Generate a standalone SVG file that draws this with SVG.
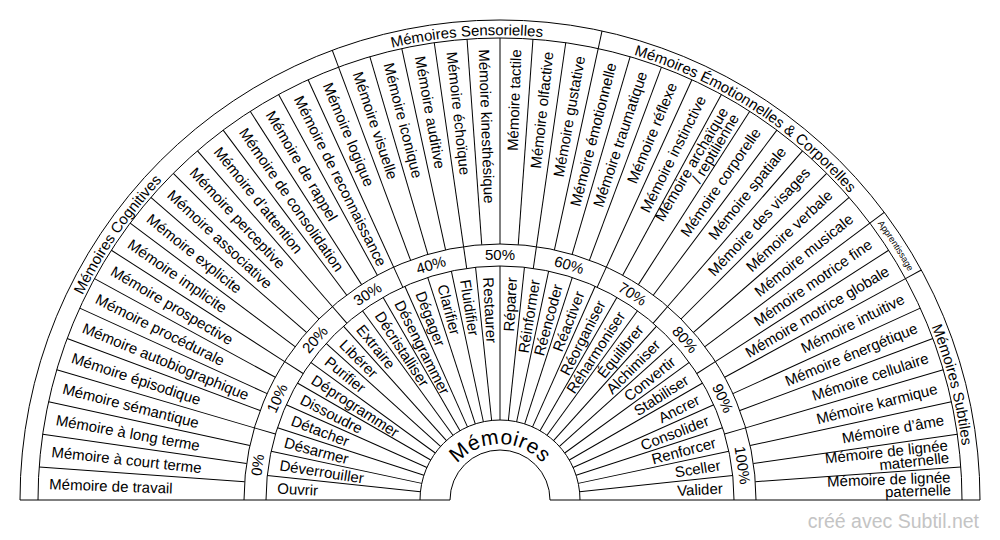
<svg xmlns="http://www.w3.org/2000/svg" xmlns:xlink="http://www.w3.org/1999/xlink" width="1000" height="540" viewBox="0 0 1000 540">
<defs>
<style>
text{font-family:"Liberation Sans",Arial,sans-serif;font-size:15px;fill:#000}
.ln{stroke:#000;stroke-width:1;fill:none}
.ml{text-anchor:start}
.mr{text-anchor:end}
.pc{text-anchor:middle}
.wm{font-size:19.5px;fill:#c4c4c4;text-anchor:end}
.hub{font-size:21px;letter-spacing:0.6px}
.small{font-size:9px}
</style>
<path id="catArc" d="M 35 500 A 465 465 0 0 1 965 500"/>
<path id="catArc2" d="M 32 500 A 468 468 0 0 1 968 500"/>
<path id="hubArc" d="M 444 500 A 56 56 0 0 1 556 500"/>
<line id="mLine" x1="38" y1="500" x2="244" y2="500"/>
<line id="cLine" x1="20" y1="500" x2="38" y2="500"/>
<line id="vLine" x1="266" y1="500" x2="420" y2="500"/>
<line id="pLine" x1="244" y1="500" x2="266" y2="500"/>
</defs>
<rect width="1000" height="540" fill="#fff"/>
<g id="rings" class="ln">
<path d="M 20 500 A 480 480 0 0 1 980 500"/>
<path d="M 38 500 A 462 462 0 0 1 962 500"/>
<path d="M 244 500 A 256 256 0 0 1 756 500"/>
<path d="M 266 500 A 234 234 0 0 1 734 500"/>
<path d="M 420 500 A 80 80 0 0 1 580 500"/>
<path d="M 450 500 A 50 50 0 0 1 550 500"/>
<path d="M 20 500 H 450 M 550 500 H 980"/>
</g>
<g id="connectors" class="ln">
<g id="category-dividers">
<use href="#cLine" transform="rotate(69.545 500 500)"/>
<use href="#cLine" transform="rotate(102.273 500 500)"/>
<use href="#cLine" transform="rotate(143.182 500 500)"/>
<use href="#cLine" transform="rotate(151.364 500 500)"/>
</g>
<g id="memory-dividers">
<use href="#mLine" transform="rotate(4.091 500 500)"/>
<use href="#mLine" transform="rotate(8.182 500 500)"/>
<use href="#mLine" transform="rotate(12.273 500 500)"/>
<use href="#mLine" transform="rotate(16.364 500 500)"/>
<use href="#mLine" transform="rotate(20.455 500 500)"/>
<use href="#mLine" transform="rotate(24.545 500 500)"/>
<use href="#mLine" transform="rotate(28.636 500 500)"/>
<use href="#mLine" transform="rotate(32.727 500 500)"/>
<use href="#mLine" transform="rotate(36.818 500 500)"/>
<use href="#mLine" transform="rotate(40.909 500 500)"/>
<use href="#mLine" transform="rotate(45 500 500)"/>
<use href="#mLine" transform="rotate(49.091 500 500)"/>
<use href="#mLine" transform="rotate(53.182 500 500)"/>
<use href="#mLine" transform="rotate(57.273 500 500)"/>
<use href="#mLine" transform="rotate(61.364 500 500)"/>
<use href="#mLine" transform="rotate(65.455 500 500)"/>
<use href="#mLine" transform="rotate(69.545 500 500)"/>
<use href="#mLine" transform="rotate(73.636 500 500)"/>
<use href="#mLine" transform="rotate(77.727 500 500)"/>
<use href="#mLine" transform="rotate(81.818 500 500)"/>
<use href="#mLine" transform="rotate(85.909 500 500)"/>
<use href="#mLine" transform="rotate(90 500 500)"/>
<use href="#mLine" transform="rotate(94.091 500 500)"/>
<use href="#mLine" transform="rotate(98.182 500 500)"/>
<use href="#mLine" transform="rotate(102.273 500 500)"/>
<use href="#mLine" transform="rotate(106.364 500 500)"/>
<use href="#mLine" transform="rotate(110.455 500 500)"/>
<use href="#mLine" transform="rotate(114.545 500 500)"/>
<use href="#mLine" transform="rotate(118.636 500 500)"/>
<use href="#mLine" transform="rotate(122.727 500 500)"/>
<use href="#mLine" transform="rotate(126.818 500 500)"/>
<use href="#mLine" transform="rotate(130.909 500 500)"/>
<use href="#mLine" transform="rotate(135 500 500)"/>
<use href="#mLine" transform="rotate(139.091 500 500)"/>
<use href="#mLine" transform="rotate(143.182 500 500)"/>
<use href="#mLine" transform="rotate(147.273 500 500)"/>
<use href="#mLine" transform="rotate(151.364 500 500)"/>
<use href="#mLine" transform="rotate(155.455 500 500)"/>
<use href="#mLine" transform="rotate(159.545 500 500)"/>
<use href="#mLine" transform="rotate(163.636 500 500)"/>
<use href="#mLine" transform="rotate(167.727 500 500)"/>
<use href="#mLine" transform="rotate(171.818 500 500)"/>
<use href="#mLine" transform="rotate(175.909 500 500)"/>
</g>
<g id="percent-dividers">
<use href="#pLine" transform="rotate(16.364 500 500)"/>
<use href="#pLine" transform="rotate(32.727 500 500)"/>
<use href="#pLine" transform="rotate(49.091 500 500)"/>
<use href="#pLine" transform="rotate(65.455 500 500)"/>
<use href="#pLine" transform="rotate(81.818 500 500)"/>
<use href="#pLine" transform="rotate(98.182 500 500)"/>
<use href="#pLine" transform="rotate(114.545 500 500)"/>
<use href="#pLine" transform="rotate(130.909 500 500)"/>
<use href="#pLine" transform="rotate(147.273 500 500)"/>
<use href="#pLine" transform="rotate(163.636 500 500)"/>
</g>
<g id="verb-dividers">
<use href="#vLine" transform="rotate(6 500 500)"/>
<use href="#vLine" transform="rotate(12 500 500)"/>
<use href="#vLine" transform="rotate(18 500 500)"/>
<use href="#vLine" transform="rotate(24 500 500)"/>
<use href="#vLine" transform="rotate(30 500 500)"/>
<use href="#vLine" transform="rotate(36 500 500)"/>
<use href="#vLine" transform="rotate(42 500 500)"/>
<use href="#vLine" transform="rotate(48 500 500)"/>
<use href="#vLine" transform="rotate(54 500 500)"/>
<use href="#vLine" transform="rotate(60 500 500)"/>
<use href="#vLine" transform="rotate(66 500 500)"/>
<use href="#vLine" transform="rotate(72 500 500)"/>
<use href="#vLine" transform="rotate(78 500 500)"/>
<use href="#vLine" transform="rotate(84 500 500)"/>
<use href="#vLine" transform="rotate(90 500 500)"/>
<use href="#vLine" transform="rotate(96 500 500)"/>
<use href="#vLine" transform="rotate(102 500 500)"/>
<use href="#vLine" transform="rotate(108 500 500)"/>
<use href="#vLine" transform="rotate(114 500 500)"/>
<use href="#vLine" transform="rotate(120 500 500)"/>
<use href="#vLine" transform="rotate(126 500 500)"/>
<use href="#vLine" transform="rotate(132 500 500)"/>
<use href="#vLine" transform="rotate(138 500 500)"/>
<use href="#vLine" transform="rotate(144 500 500)"/>
<use href="#vLine" transform="rotate(150 500 500)"/>
<use href="#vLine" transform="rotate(156 500 500)"/>
<use href="#vLine" transform="rotate(162 500 500)"/>
<use href="#vLine" transform="rotate(168 500 500)"/>
<use href="#vLine" transform="rotate(174 500 500)"/>
</g>
</g>
<g id="categories">
<text><textPath href="#catArc" startOffset="19.32%" text-anchor="middle">Mémoires Cognitives</textPath></text>
<text><textPath href="#catArc" startOffset="47.73%" text-anchor="middle">Mémoires Sensorielles</textPath></text>
<text><textPath href="#catArc" startOffset="68.18%" text-anchor="middle">Mémoires Émotionnelles &amp; Corporelles</textPath></text>
<text class="small"><textPath href="#catArc2" startOffset="81.82%" text-anchor="middle">Apprentissage</textPath></text>
<text><textPath href="#catArc" startOffset="92.05%" text-anchor="middle">Mémoires Subtiles</textPath></text>
</g>
<g id="memories">
<text class="ml" x="49" y="500" dy="0.35em" transform="rotate(2.045 500 500)">Mémoire de travail</text>
<text class="ml" x="49" y="500" dy="0.35em" transform="rotate(6.136 500 500)">Mémoire à court terme</text>
<text class="ml" x="49" y="500" dy="0.35em" transform="rotate(10.227 500 500)">Mémoire à long terme</text>
<text class="ml" x="49" y="500" dy="0.35em" transform="rotate(14.318 500 500)">Mémoire sémantique</text>
<text class="ml" x="49" y="500" dy="0.35em" transform="rotate(18.409 500 500)">Mémoire épisodique</text>
<text class="ml" x="49" y="500" dy="0.35em" transform="rotate(22.5 500 500)">Mémoire autobiographique</text>
<text class="ml" x="49" y="500" dy="0.35em" transform="rotate(26.591 500 500)">Mémoire procédurale</text>
<text class="ml" x="49" y="500" dy="0.35em" transform="rotate(30.682 500 500)">Mémoire prospective</text>
<text class="ml" x="49" y="500" dy="0.35em" transform="rotate(34.773 500 500)">Mémoire implicite</text>
<text class="ml" x="49" y="500" dy="0.35em" transform="rotate(38.864 500 500)">Mémoire explicite</text>
<text class="ml" x="49" y="500" dy="0.35em" transform="rotate(42.955 500 500)">Mémoire associative</text>
<text class="ml" x="49" y="500" dy="0.35em" transform="rotate(47.045 500 500)">Mémoire perceptive</text>
<text class="ml" x="49" y="500" dy="0.35em" transform="rotate(51.136 500 500)">Mémoire d’attention</text>
<text class="ml" x="49" y="500" dy="0.35em" transform="rotate(55.227 500 500)">Mémoire de consolidation</text>
<text class="ml" x="49" y="500" dy="0.35em" transform="rotate(59.318 500 500)">Mémoire de rappel</text>
<text class="ml" x="49" y="500" dy="0.35em" transform="rotate(63.409 500 500)">Mémoire de reconnaissance</text>
<text class="ml" x="49" y="500" dy="0.35em" transform="rotate(67.5 500 500)">Mémoire logique</text>
<text class="ml" x="49" y="500" dy="0.35em" transform="rotate(71.591 500 500)">Mémoire visuelle</text>
<text class="ml" x="49" y="500" dy="0.35em" transform="rotate(75.682 500 500)">Mémoire iconique</text>
<text class="ml" x="49" y="500" dy="0.35em" transform="rotate(79.773 500 500)">Mémoire auditive</text>
<text class="ml" x="49" y="500" dy="0.35em" transform="rotate(83.864 500 500)">Mémoire échoïque</text>
<text class="ml" x="49" y="500" dy="0.35em" transform="rotate(87.955 500 500)">Mémoire kinesthésique</text>
<text class="mr" x="951" y="500" dy="0.35em" transform="rotate(-87.955 500 500)">Mémoire tactile</text>
<text class="mr" x="951" y="500" dy="0.35em" transform="rotate(-83.864 500 500)">Mémoire olfactive</text>
<text class="mr" x="951" y="500" dy="0.35em" transform="rotate(-79.773 500 500)">Mémoire gustative</text>
<text class="mr" x="951" y="500" dy="0.35em" transform="rotate(-75.682 500 500)">Mémoire émotionnelle</text>
<text class="mr" x="951" y="500" dy="0.35em" transform="rotate(-71.591 500 500)">Mémoire traumatique</text>
<text class="mr" x="951" y="500" dy="0.35em" transform="rotate(-67.5 500 500)">Mémoire réflexe</text>
<text class="mr" x="951" y="500" dy="0.35em" transform="rotate(-63.409 500 500)">Mémoire instinctive</text>
<text class="mr" transform="rotate(-59.318 500 500)"><tspan x="951" y="498.5">Mémoire archaïque</tspan><tspan x="951" y="511">/ reptilienne</tspan></text>
<text class="mr" x="951" y="500" dy="0.35em" transform="rotate(-55.227 500 500)">Mémoire corporelle</text>
<text class="mr" x="951" y="500" dy="0.35em" transform="rotate(-51.136 500 500)">Mémoire spatiale</text>
<text class="mr" x="951" y="500" dy="0.35em" transform="rotate(-47.045 500 500)">Mémoire des visages</text>
<text class="mr" x="951" y="500" dy="0.35em" transform="rotate(-42.955 500 500)">Mémoire verbale</text>
<text class="mr" x="951" y="500" dy="0.35em" transform="rotate(-38.864 500 500)">Mémoire musicale</text>
<text class="mr" x="951" y="500" dy="0.35em" transform="rotate(-34.773 500 500)">Mémoire motrice fine</text>
<text class="mr" x="951" y="500" dy="0.35em" transform="rotate(-30.682 500 500)">Mémoire motrice globale</text>
<text class="mr" x="951" y="500" dy="0.35em" transform="rotate(-26.591 500 500)">Mémoire intuitive</text>
<text class="mr" x="951" y="500" dy="0.35em" transform="rotate(-22.5 500 500)">Mémoire énergétique</text>
<text class="mr" x="951" y="500" dy="0.35em" transform="rotate(-18.409 500 500)">Mémoire cellulaire</text>
<text class="mr" x="951" y="500" dy="0.35em" transform="rotate(-14.318 500 500)">Mémoire karmique</text>
<text class="mr" x="951" y="500" dy="0.35em" transform="rotate(-10.227 500 500)">Mémoire d’âme</text>
<text class="mr" transform="rotate(-6.136 500 500)"><tspan x="951" y="498.5">Mémoire de lignée</tspan><tspan x="951" y="511">maternelle</tspan></text>
<text class="mr" transform="rotate(-2.045 500 500)"><tspan x="951" y="498.5">Mémoire de lignée</tspan><tspan x="951" y="511">paternelle</tspan></text>
</g>
<g id="percentages">
<text class="pc" x="500" y="255" dy="0.35em" transform="rotate(-81.818 500 500)">0%</text>
<text class="pc" x="500" y="255" dy="0.35em" transform="rotate(-65.455 500 500)">10%</text>
<text class="pc" x="500" y="255" dy="0.35em" transform="rotate(-49.091 500 500)">20%</text>
<text class="pc" x="500" y="255" dy="0.35em" transform="rotate(-32.727 500 500)">30%</text>
<text class="pc" x="500" y="255" dy="0.35em" transform="rotate(-16.364 500 500)">40%</text>
<text class="pc" x="500" y="255" dy="0.35em">50%</text>
<text class="pc" x="500" y="255" dy="0.35em" transform="rotate(16.364 500 500)">60%</text>
<text class="pc" x="500" y="255" dy="0.35em" transform="rotate(32.727 500 500)">70%</text>
<text class="pc" x="500" y="255" dy="0.35em" transform="rotate(49.091 500 500)">80%</text>
<text class="pc" x="500" y="255" dy="0.35em" transform="rotate(65.455 500 500)">90%</text>
<text class="pc" x="500" y="255" dy="0.35em" transform="rotate(81.818 500 500)">100%</text>
</g>
<g id="actions">
<text class="ml" x="277" y="500" dy="0.35em" transform="rotate(3 500 500)">Ouvrir</text>
<text class="ml" x="277" y="500" dy="0.35em" transform="rotate(9 500 500)">Déverrouiller</text>
<text class="ml" x="277" y="500" dy="0.35em" transform="rotate(15 500 500)">Désarmer</text>
<text class="ml" x="277" y="500" dy="0.35em" transform="rotate(21 500 500)">Détacher</text>
<text class="ml" x="277" y="500" dy="0.35em" transform="rotate(27 500 500)">Dissoudre</text>
<text class="ml" x="277" y="500" dy="0.35em" transform="rotate(33 500 500)">Déprogrammer</text>
<text class="ml" x="277" y="500" dy="0.35em" transform="rotate(39 500 500)">Purifier</text>
<text class="ml" x="277" y="500" dy="0.35em" transform="rotate(45 500 500)">Libérer</text>
<text class="ml" x="277" y="500" dy="0.35em" transform="rotate(51 500 500)">Extraire</text>
<text class="ml" x="277" y="500" dy="0.35em" transform="rotate(57 500 500)">Décristalliser</text>
<text class="ml" x="277" y="500" dy="0.35em" transform="rotate(63 500 500)">Désengrammer</text>
<text class="ml" x="277" y="500" dy="0.35em" transform="rotate(69 500 500)">Dégager</text>
<text class="ml" x="277" y="500" dy="0.35em" transform="rotate(75 500 500)">Clarifier</text>
<text class="ml" x="277" y="500" dy="0.35em" transform="rotate(81 500 500)">Fluidifier</text>
<text class="ml" x="277" y="500" dy="0.35em" transform="rotate(87 500 500)">Restaurer</text>
<text class="mr" x="723" y="500" dy="0.35em" transform="rotate(-87 500 500)">Réparer</text>
<text class="mr" x="723" y="500" dy="0.35em" transform="rotate(-81 500 500)">Réinformer</text>
<text class="mr" x="723" y="500" dy="0.35em" transform="rotate(-75 500 500)">Réencoder</text>
<text class="mr" x="723" y="500" dy="0.35em" transform="rotate(-69 500 500)">Réactiver</text>
<text class="mr" x="723" y="500" dy="0.35em" transform="rotate(-63 500 500)">Réorganiser</text>
<text class="mr" x="723" y="500" dy="0.35em" transform="rotate(-57 500 500)">Réharmoniser</text>
<text class="mr" x="723" y="500" dy="0.35em" transform="rotate(-51 500 500)">Équilibrer</text>
<text class="mr" x="723" y="500" dy="0.35em" transform="rotate(-45 500 500)">Alchimiser</text>
<text class="mr" x="723" y="500" dy="0.35em" transform="rotate(-39 500 500)">Convertir</text>
<text class="mr" x="723" y="500" dy="0.35em" transform="rotate(-33 500 500)">Stabiliser</text>
<text class="mr" x="723" y="500" dy="0.35em" transform="rotate(-27 500 500)">Ancrer</text>
<text class="mr" x="723" y="500" dy="0.35em" transform="rotate(-21 500 500)">Consolider</text>
<text class="mr" x="723" y="500" dy="0.35em" transform="rotate(-15 500 500)">Renforcer</text>
<text class="mr" x="723" y="500" dy="0.35em" transform="rotate(-9 500 500)">Sceller</text>
<text class="mr" x="723" y="500" dy="0.35em" transform="rotate(-3 500 500)">Valider</text>
</g>
<g id="hub">
<text class="hub"><textPath href="#hubArc" startOffset="50%" text-anchor="middle">Mémoires</textPath></text>
</g>
<text class="wm" x="979" y="528">créé avec Subtil.net</text>
</svg>
